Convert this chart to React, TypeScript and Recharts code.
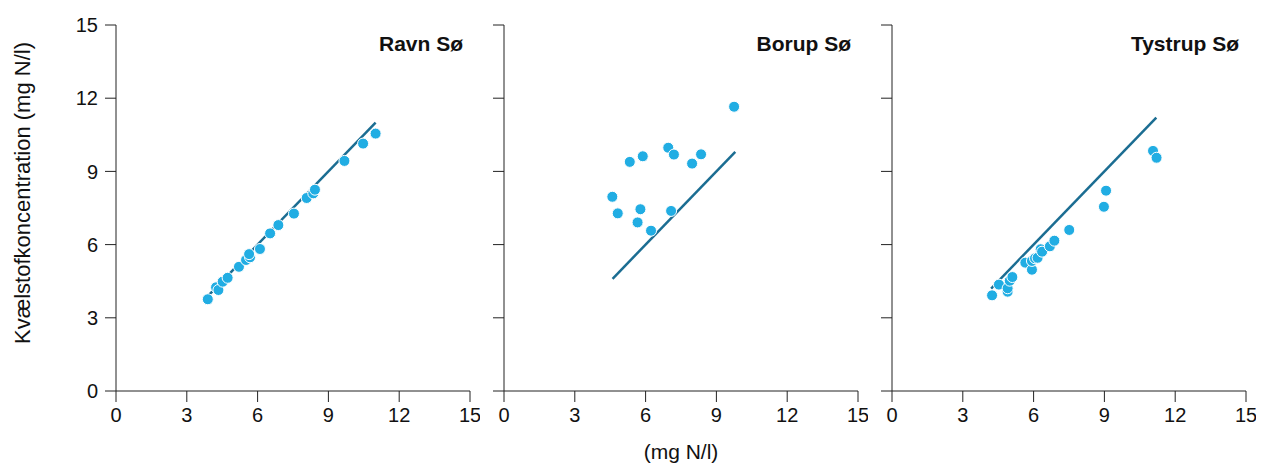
import React from 'react';
import { ScatterChart, Scatter, XAxis, YAxis, Label } from 'recharts';

const ticks = [0, 3, 6, 9, 12, 15];

const ravnX = [3.89, 4.24, 4.34, 4.52, 4.73, 5.21, 5.51, 5.68, 5.64, 6.10, 6.53, 6.88, 7.54, 8.08, 8.36, 8.43, 9.68, 10.47, 11.0];
const ravnY = [3.76, 4.25, 4.14, 4.48, 4.64, 5.09, 5.37, 5.48, 5.61, 5.82, 6.46, 6.80, 7.27, 7.91, 8.10, 8.25, 9.43, 10.14, 10.55];
const ravnLine = [3.9, 11.0];

const borupX = [9.75, 6.96, 7.20, 8.35, 7.97, 5.88, 5.33, 4.59, 4.82, 5.78, 5.66, 6.23, 7.08];
const borupY = [11.65, 9.97, 9.69, 9.70, 9.32, 9.62, 9.39, 7.96, 7.28, 7.45, 6.91, 6.57, 7.38];
const borupLine = [4.6, 9.8];

const tystrupX = [4.24, 4.53, 4.90, 4.90, 4.99, 5.10, 5.65, 5.93, 5.93, 6.06, 6.17, 6.30, 6.36, 6.69, 6.88, 7.51, 8.98, 9.07, 11.06, 11.21];
const tystrupY = [3.92, 4.36, 4.07, 4.21, 4.52, 4.67, 5.26, 4.97, 5.33, 5.44, 5.46, 5.81, 5.71, 5.93, 6.16, 6.60, 7.55, 8.21, 9.84, 9.56];
const tystrupLine = [4.2, 11.2];

const titles = ['Ravn Sø', 'Borup Sø', 'Tystrup Sø'];
const yLabel = 'Kvælstofkoncentration (mg N/l)';
const xLabel = '(mg N/l)';

const FONT = 'Liberation Sans, Arial, sans-serif';
const AXIS = '#222';
const DOT = '#21ade3';
const LINE = '#1b6d92';

const toPts = (xs: number[], ys: number[]) => xs.map((x, i) => ({ x, y: ys[i] }));
const toLine = (l: number[]) => l.map((v) => ({ x: v, y: v }));

const Dot = (p: any) => <circle cx={p.cx} cy={p.cy} r={5.5} fill={DOT} stroke="#fff" strokeWidth={1} />;
const NoShape = () => <g />;

interface PanelProps {
  left: number;
  width: number;
  yAxisWidth: number;
  showYLabels: boolean;
  title: string;
  pts: { x: number; y: number }[];
  line: { x: number; y: number }[];
  yTitle?: boolean;
  xTitle?: boolean;
}

function Panel({ left, width, yAxisWidth, showYLabels, title, pts, line, yTitle, xTitle }: PanelProps) {
  const tickStyle = { fontSize: 20, fill: '#111', fontFamily: FONT };
  return (
    <div style={{ position: 'absolute', left, top: 0 }}>
      <ScatterChart width={width} height={464} margin={{ top: 25, right: 10, bottom: 43, left: 0 }}>
        <XAxis
          xAxisId="b"
          type="number"
          dataKey="x"
          domain={[0, 15]}
          ticks={ticks}
          allowDataOverflow
          height={30}
          tickSize={11}
          stroke={AXIS}
          tick={tickStyle}
          tickMargin={6}
        >
          {xTitle && (
            <Label value={xLabel} position="bottom" offset={23} style={{ fontSize: 21, fill: '#111', fontFamily: FONT }} />
          )}
        </XAxis>
        <XAxis xAxisId="t" type="number" dataKey="x" domain={[0, 15]} orientation="top" height={0} tick={false} tickLine={false} stroke={AXIS} />
        <YAxis
          yAxisId="l"
          type="number"
          dataKey="y"
          domain={[0, 15]}
          ticks={ticks}
          allowDataOverflow
          width={yAxisWidth}
          tickSize={11}
          stroke={AXIS}
          tick={tickStyle}
          tickMargin={7}
          tickFormatter={showYLabels ? (v: number) => String(v) : () => ''}
        >
          {yTitle && (
            <Label
              content={(props: any) => {
                const vb = props.viewBox || { x: 0, y: 0, height: 0 };
                const cx = vb.x + 22;
                const cy = vb.y + vb.height / 2 - 15;
                return (
                  <text
                    x={cx}
                    y={cy}
                    transform={`rotate(-90 ${cx} ${cy})`}
                    textAnchor="middle"
                    dominantBaseline="central"
                    style={{ fontSize: 22, fill: '#111', fontFamily: FONT }}
                  >
                    {yLabel}
                  </text>
                );
              }}
            />
          )}
        </YAxis>
        <YAxis yAxisId="r" type="number" dataKey="y" domain={[0, 15]} orientation="right" width={0} tick={false} tickLine={false} stroke={AXIS} />
        <Scatter
          xAxisId="b"
          yAxisId="l"
          data={line}
          line={{ stroke: LINE, strokeWidth: 2.5 }}
          shape={NoShape}
          isAnimationActive={false}
        />
        <Scatter xAxisId="b" yAxisId="l" data={pts} shape={Dot} isAnimationActive={false} />
        <Scatter
          xAxisId="b"
          yAxisId="l"
          data={[{ x: 15, y: 15 }]}
          shape={(p: any) => (
            <text
              x={p.cx - 7}
              y={p.cy + 26}
              textAnchor="end"
              style={{ fontSize: 21, fontWeight: 'bold', fill: '#111', fontFamily: FONT }}
            >
              {title}
            </text>
          )}
          isAnimationActive={false}
        />
      </ScatterChart>
    </div>
  );
}

export default function App() {
  return (
    <div style={{ position: 'absolute', left: 0, top: 0, width: 1262, height: 464, background: '#fff' }}>
      <Panel left={0} width={480} yAxisWidth={116} showYLabels title={titles[0]} pts={toPts(ravnX, ravnY)} line={toLine(ravnLine)} yTitle />
      <Panel left={480} width={388} yAxisWidth={24} showYLabels={false} title={titles[1]} pts={toPts(borupX, borupY)} line={toLine(borupLine)} xTitle />
      <Panel left={868} width={388} yAxisWidth={24} showYLabels={false} title={titles[2]} pts={toPts(tystrupX, tystrupY)} line={toLine(tystrupLine)} />
    </div>
  );
}
